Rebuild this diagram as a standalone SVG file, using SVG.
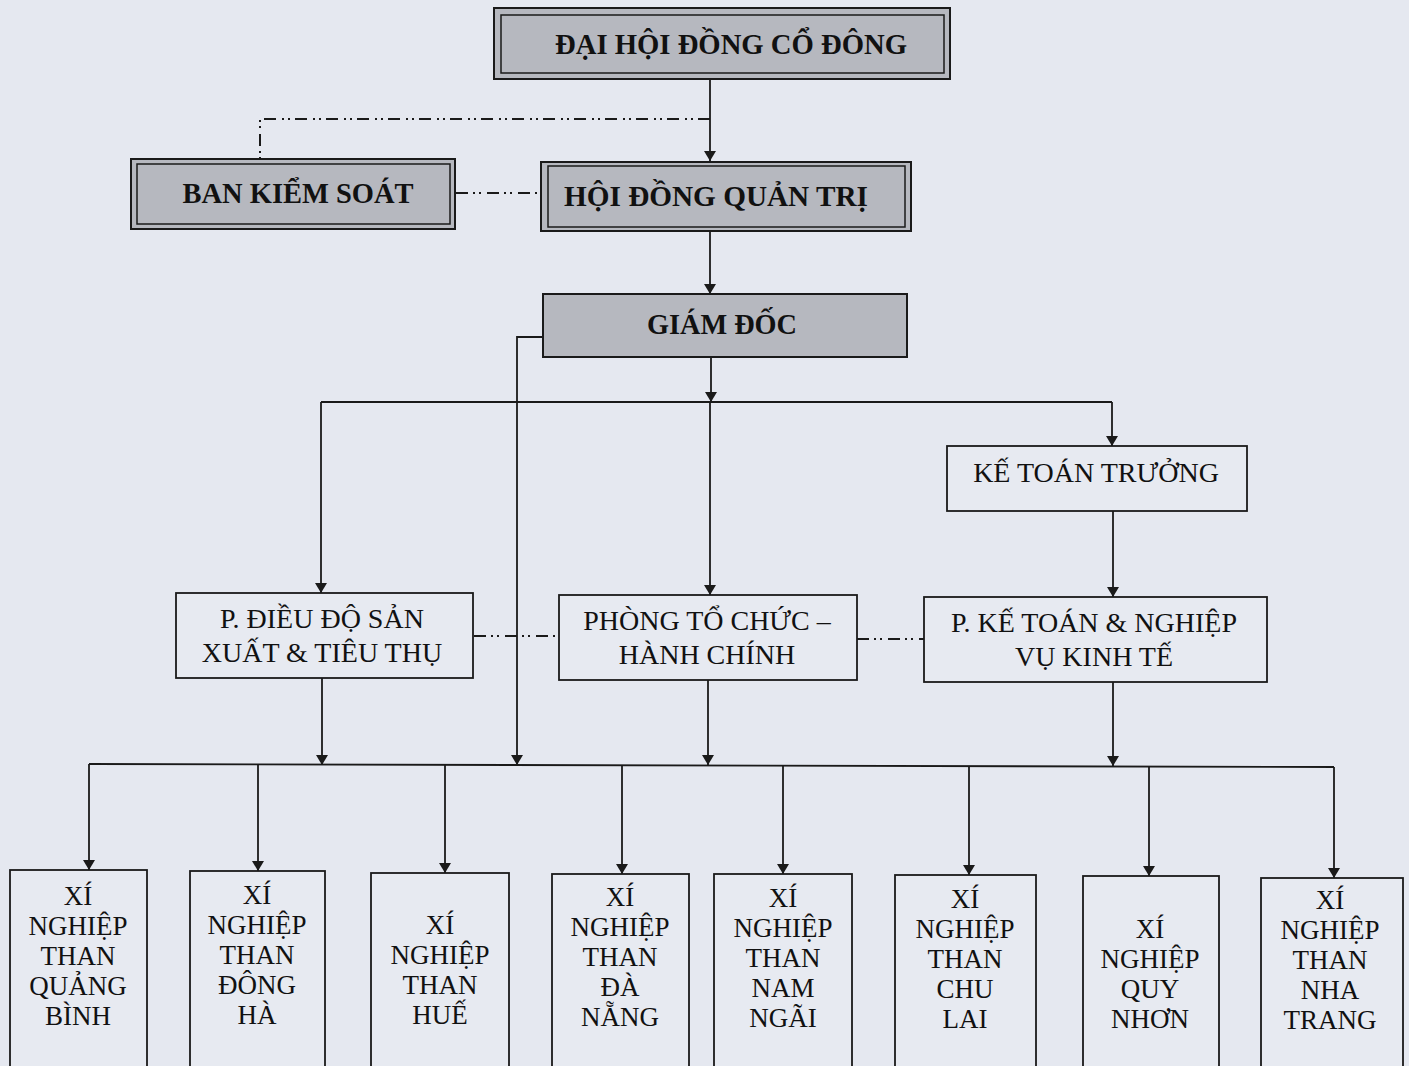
<svg xmlns="http://www.w3.org/2000/svg" width="1409" height="1066" viewBox="0 0 1409 1066">
<defs>
<marker id="arr" viewBox="0 0 10 12" refX="10" refY="6" markerWidth="10" markerHeight="12" markerUnits="userSpaceOnUse" orient="auto">
<path d="M0,0 L10,6 L0,12 z" fill="#1a1a1a"/>
</marker>
<style>
.bg{fill:#e5e8f0}
.gray{fill:#b6b8bf;stroke:#1a1a1a;stroke-width:2}
.inner{fill:none;stroke:#1a1a1a;stroke-width:1.5}
.plain{fill:#e7eaf1;stroke:#1a1a1a;stroke-width:1.8}
.b{font-family:"Liberation Serif",serif;font-weight:bold;font-size:30px;fill:#111;text-anchor:middle}
.t{font-family:"Liberation Serif",serif;font-size:28px;fill:#111;text-anchor:middle}
.s{font-family:"Liberation Serif",serif;font-size:27px;fill:#111;text-anchor:middle}
.ln{fill:none;stroke:#1a1a1a;stroke-width:1.8}
.ar{fill:none;stroke:#1a1a1a;stroke-width:1.8;marker-end:url(#arr)}
.dd{fill:none;stroke:#1a1a1a;stroke-width:2;stroke-dasharray:12 5 2 4 2 6}
</style>
</defs>
<rect class="bg" x="0" y="0" width="1409" height="1066"/>

<g id="connectors">
<path class="ar" d="M710,80 L710,161"/>
<path class="dd" d="M710,119 L260,119 L260,159"/>
<path class="dd" d="M456,193 L541,193"/>
<path class="ar" d="M710,231 L710,294"/>
<path class="ar" d="M711,357 L711,402"/>
<path class="ln" d="M321,402 L1112,402"/>
<path class="ar" d="M321,402 L321,593"/>
<path class="ar" d="M710,402 L710,595"/>
<path class="ar" d="M1112,402 L1112,446"/>
<path class="ar" d="M1113,511 L1113,597"/>
<path class="dd" d="M474,636 L559,636"/>
<path class="dd" d="M857,639 L924,639"/>
<path class="ar" d="M543,337 L517,337 L517,765"/>
<path class="ar" d="M322,678 L322,765"/>
<path class="ar" d="M708,680 L708,765"/>
<path class="ar" d="M1113,682 L1113,766"/>
<path class="ln" d="M89,764 L1334,767"/>
<path class="ar" d="M89,764 L89,870"/>
<path class="ar" d="M258,764 L258,871"/>
<path class="ar" d="M445,765 L445,873"/>
<path class="ar" d="M622,765 L622,874"/>
<path class="ar" d="M783,766 L783,874"/>
<path class="ar" d="M969,766 L969,875"/>
<path class="ar" d="M1149,767 L1149,876"/>
<path class="ar" d="M1334,767 L1334,878"/>
</g>

<g id="dhdcd">
<rect class="gray" x="494" y="8" width="456" height="71"/>
<rect class="inner" x="501" y="15" width="443" height="58"/>
<text class="b" x="731" y="54" textLength="352" lengthAdjust="spacingAndGlyphs">ĐẠI HỘI ĐỒNG CỔ ĐÔNG</text>
</g>
<g id="bks">
<rect class="gray" x="131" y="159" width="324" height="70"/>
<rect class="inner" x="137" y="164" width="313" height="60"/>
<text class="b" x="298" y="203" textLength="231" lengthAdjust="spacingAndGlyphs">BAN KIỂM SOÁT</text>
</g>
<g id="hdqt">
<rect class="gray" x="541" y="162" width="370" height="69"/>
<rect class="inner" x="548" y="166" width="357" height="61"/>
<text class="b" x="716" y="206" textLength="304" lengthAdjust="spacingAndGlyphs">HỘI ĐỒNG QUẢN TRỊ</text>
</g>
<g id="gd">
<rect class="gray" x="543" y="294" width="364" height="63"/>
<text class="b" x="722" y="334" textLength="150" lengthAdjust="spacingAndGlyphs">GIÁM ĐỐC</text>
</g>
<g id="ktt">
<rect class="plain" x="947" y="446" width="300" height="65"/>
<text class="t" x="1096" y="482">KẾ TOÁN TRƯỞNG</text>
</g>
<g id="pdd">
<rect class="plain" x="176" y="593" width="297" height="85"/>
<text class="t" x="322" y="628">P. ĐIỀU ĐỘ SẢN</text>
<text class="t" x="322" y="662">XUẤT &amp; TIÊU THỤ</text>
</g>
<g id="ptc">
<rect class="plain" x="559" y="595" width="298" height="85"/>
<text class="t" x="707" y="630">PHÒNG TỔ CHỨC –</text>
<text class="t" x="707" y="664">HÀNH CHÍNH</text>
</g>
<g id="pkt">
<rect class="plain" x="924" y="597" width="343" height="85"/>
<text class="t" x="1094" y="632">P. KẾ TOÁN &amp; NGHIỆP</text>
<text class="t" x="1094" y="666">VỤ KINH TẾ</text>
</g>

<g id="xn-quangbinh">
<rect class="plain" x="10" y="870" width="137" height="200"/>
<text class="s" x="78" y="905">XÍ</text>
<text class="s" x="78" y="935">NGHIỆP</text>
<text class="s" x="78" y="965">THAN</text>
<text class="s" x="78" y="995">QUẢNG</text>
<text class="s" x="78" y="1025">BÌNH</text>
</g>
<g id="xn-dongha">
<rect class="plain" x="190" y="871" width="135" height="200"/>
<text class="s" x="257" y="904">XÍ</text>
<text class="s" x="257" y="934">NGHIỆP</text>
<text class="s" x="257" y="964">THAN</text>
<text class="s" x="257" y="994">ĐÔNG</text>
<text class="s" x="257" y="1024">HÀ</text>
</g>
<g id="xn-hue">
<rect class="plain" x="371" y="873" width="138" height="200"/>
<text class="s" x="440" y="934">XÍ</text>
<text class="s" x="440" y="964">NGHIỆP</text>
<text class="s" x="440" y="994">THAN</text>
<text class="s" x="440" y="1024">HUẾ</text>
</g>
<g id="xn-danang">
<rect class="plain" x="552" y="874" width="137" height="200"/>
<text class="s" x="620" y="906">XÍ</text>
<text class="s" x="620" y="936">NGHIỆP</text>
<text class="s" x="620" y="966">THAN</text>
<text class="s" x="620" y="996">ĐÀ</text>
<text class="s" x="620" y="1026">NẴNG</text>
</g>
<g id="xn-namngai">
<rect class="plain" x="714" y="874" width="138" height="200"/>
<text class="s" x="783" y="907">XÍ</text>
<text class="s" x="783" y="937">NGHIỆP</text>
<text class="s" x="783" y="967">THAN</text>
<text class="s" x="783" y="997">NAM</text>
<text class="s" x="783" y="1027">NGÃI</text>
</g>
<g id="xn-chulai">
<rect class="plain" x="895" y="875" width="141" height="200"/>
<text class="s" x="965" y="908">XÍ</text>
<text class="s" x="965" y="938">NGHIỆP</text>
<text class="s" x="965" y="968">THAN</text>
<text class="s" x="965" y="998">CHU</text>
<text class="s" x="965" y="1028">LAI</text>
</g>
<g id="xn-quynhon">
<rect class="plain" x="1083" y="876" width="136" height="200"/>
<text class="s" x="1150" y="938">XÍ</text>
<text class="s" x="1150" y="968">NGHIỆP</text>
<text class="s" x="1150" y="998">QUY</text>
<text class="s" x="1150" y="1028">NHƠN</text>
</g>
<g id="xn-nhatrang">
<rect class="plain" x="1261" y="878" width="142" height="200"/>
<text class="s" x="1330" y="909">XÍ</text>
<text class="s" x="1330" y="939">NGHIỆP</text>
<text class="s" x="1330" y="969">THAN</text>
<text class="s" x="1330" y="999">NHA</text>
<text class="s" x="1330" y="1029">TRANG</text>
</g>
</svg>
